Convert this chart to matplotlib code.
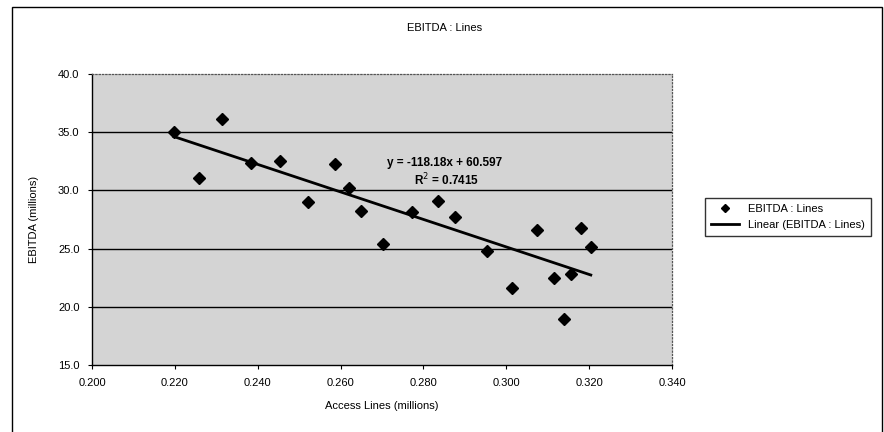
import matplotlib.pyplot as plt
from matplotlib.patches import Rectangle

# data
access_lines = [0.2197, 0.2259, 0.2315, 0.2383, 0.2455, 0.2521, 0.2587, 0.2621, 0.2649,
                0.2703, 0.2773, 0.2836, 0.2877, 0.2953, 0.3015, 0.3073, 0.3115, 0.3139,
                0.3156, 0.3180, 0.3204]
ebitda = [35.0, 31.04, 36.1, 32.38, 32.55, 29.03, 32.27, 30.23, 28.26,
          25.4, 28.17, 29.12, 27.69, 24.79, 21.59, 26.6, 22.5, 18.93,
          22.82, 26.8, 25.11]
slope = -118.18
intercept = 60.597
r_squared = 0.7415

x_ticks = [0.200, 0.220, 0.240, 0.260, 0.280, 0.300, 0.320, 0.340]
y_ticks = [15.0, 20.0, 25.0, 30.0, 35.0, 40.0]

plt.rcParams['font.family'] = ['Liberation Sans', 'DejaVu Sans']

fig = plt.figure(figsize=(8.84, 4.32), dpi=100)
ax = fig.add_axes([92 / 884, 1 - 365 / 432, 580 / 884, 291 / 432])
ax.set_facecolor('#d4d4d4')

for y in y_ticks[1:-1]:
    ax.axhline(y, color='black', linewidth=1.0, zorder=1)

ax.plot(access_lines, ebitda, linestyle='none', marker='D', markersize=6.5,
        color='black', label='EBITDA : Lines', zorder=3)

x_fit = [min(access_lines), max(access_lines)]
y_fit = [slope * x + intercept for x in x_fit]
ax.plot(x_fit, y_fit, color='black', linewidth=2, label='Linear (EBITDA : Lines)', zorder=2)

ax.text(0.2852, 32.35, 'y = -118.18x + 60.597', ha='center', va='center',
        fontsize=8.5, fontweight='bold')
ax.text(0.2857, 30.9, 'R$^2$ = %.4f' % r_squared, ha='center', va='center',
        fontsize=8.5, fontweight='bold')

ax.set_xlim(0.200, 0.340)
ax.set_ylim(15, 40)
ax.set_xticks(x_ticks)
ax.set_yticks(y_ticks)
ax.set_xticklabels(['%.3f' % v for v in x_ticks], fontsize=8)
ax.set_yticklabels(['%.1f' % v for v in y_ticks], fontsize=8)
ax.tick_params(direction='out', length=3, width=0.8, pad=6, color='black')

ax.set_xlabel('Access Lines (millions)', fontsize=8, labelpad=10)
ax.set_ylabel('EBITDA (millions)', fontsize=8, labelpad=14)

for side in ['left', 'bottom']:
    ax.spines[side].set_color('black')
    ax.spines[side].set_linewidth(1)
for side in ['top', 'right']:
    ax.spines[side].set_color('#555555')
    ax.spines[side].set_linestyle(':')
    ax.spines[side].set_linewidth(0.9)

fig.text(445 / 884, 1 - 28 / 432, 'EBITDA : Lines', ha='center', va='center', fontsize=8)

leg = fig.legend(loc='center left', bbox_to_anchor=(705 / 884, 1 - 217 / 432),
                 fontsize=8, frameon=True, fancybox=False, edgecolor='black',
                 handlelength=2.6, markerscale=0.6, borderpad=0.5, labelspacing=0.6,
                 borderaxespad=0)
leg.get_frame().set_linewidth(1)

fig.patches.append(Rectangle((12 / 884, -0.02), 870 / 884, 1.02 - 7 / 432,
                             transform=fig.transFigure, fill=False,
                             edgecolor='black', linewidth=1))

fig.savefig('out.png', dpi=100)
